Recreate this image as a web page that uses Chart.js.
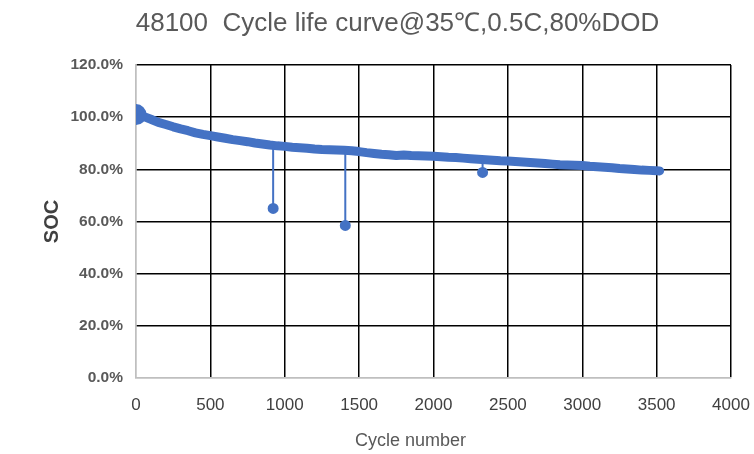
<!DOCTYPE html>
<html lang="en">
<head>
  <meta charset="UTF-8">
  <title>48100 Cycle life curve</title>
  <script src="https://cdn.jsdelivr.net/npm/chart.js"></script>
  <style>
    html, body { margin: 0; padding: 0; background: #fff; overflow: hidden; }
    #wrap { width: 754px; height: 454px; }
    canvas { display: block; }
  </style>
</head>
<body>
<div id="wrap"><canvas id="chart" width="754" height="454"></canvas></div>

<script>
  // values
  const chartTitle = "48100  Cycle life curve@35\u2103,0.5C,80%DOD";
  const xTitle = "Cycle number";
  const cycles = [0, 50, 100, 150, 200, 250, 300, 350, 400, 450, 500, 550, 600, 650, 700, 750, 800, 850, 900, 950,
    1000, 1050, 1100, 1150, 1200, 1250, 1300, 1350, 1400, 1450, 1500, 1550, 1600, 1650, 1700, 1750, 1800, 1850, 1900, 1950,
    2000, 2050, 2100, 2150, 2200, 2250, 2300, 2350, 2400, 2450, 2500, 2550, 2600, 2650, 2700, 2750, 2800, 2850, 2900, 2950,
    3000, 3050, 3100, 3150, 3200, 3250, 3300, 3350, 3400, 3450, 3500, 3520];
  const soc = [101.0, 100.3, 99.2, 98.0, 97.2, 96.3, 95.5, 94.8, 94.0, 93.4, 92.9, 92.4, 91.9, 91.4, 91.0, 90.6, 90.1, 89.7, 89.3, 89.0,
    88.8, 88.5, 88.3, 88.1, 87.8, 87.6, 87.5, 87.4, 87.3, 87.1, 86.8, 86.4, 86.1, 85.8, 85.6, 85.3, 85.5, 85.3, 85.2, 85.1,
    85.0, 84.8, 84.6, 84.5, 84.3, 84.1, 83.9, 83.7, 83.5, 83.3, 83.2, 83.0, 82.8, 82.6, 82.4, 82.2, 82.0, 81.8, 81.7, 81.6,
    81.5, 81.2, 81.0, 80.8, 80.6, 80.3, 80.1, 79.9, 79.7, 79.6, 79.5, 79.4];
  // single-cycle drops: cycle, soc on the curve, dropped soc
  const dipCycles = [922, 1407, 2330];
  const dipBase = [89.2, 87.3, 83.8];
  const dipLow = [65.0, 58.5, 78.8];
  const xTicks = { min: 0, max: 4000, step: 500 };
  const yTicks = { min: 0, max: 120, step: 20 };

  const blue = "#4472C4";
  const FONT = "'Liberation Sans', Arial, sans-serif";

  const mainData = cycles.map((c, i) => ({ x: c, y: soc[i] }));
  const dipData = [];
  dipCycles.forEach((c, i) => {
    dipData.push({ x: c, y: dipBase[i] });
    dipData.push({ x: c, y: dipLow[i] });
    dipData.push({ x: c, y: null });
  });

  // chart title and x title sit left of the plot centre in the original, so draw them here
  const textPlugin = {
    id: "sideTitles",
    afterDraw(chart) {
      const ctx = chart.ctx;
      const a = chart.chartArea;
      const mid = (a.left + a.right) / 2;
      ctx.save();
      ctx.textAlign = "center";
      ctx.textBaseline = "middle";
      ctx.fillStyle = "#595959";
      ctx.font = "26px " + FONT;
      ctx.fillText(chartTitle, mid - 36, a.top - 41);
      ctx.font = "18px " + FONT;
      ctx.fillText(xTitle, mid - 23, a.bottom + 63);
      ctx.restore();
    }
  };

  const gridColor = ctx => (ctx.tick && ctx.tick.value === 0) ? "#bfbfbf" : "#000000";

  new Chart(document.getElementById("chart"), {
    type: "scatter",
    data: {
      datasets: [
        {
          label: "drops",
          data: dipData,
          showLine: true,
          spanGaps: false,
          borderColor: blue,
          backgroundColor: blue,
          borderWidth: 2,
          pointRadius: ctx => (ctx.raw && ctx.raw.y !== null && dipLow.includes(ctx.raw.y)) ? 4.5 : 0,
          pointHoverRadius: 0
        },
        {
          label: "SOC",
          data: mainData,
          showLine: true,
          borderColor: blue,
          backgroundColor: blue,
          borderWidth: 9,
          borderCapStyle: "round",
          borderJoinStyle: "round",
          pointRadius: ctx => ctx.dataIndex === 0 ? 6 : 0,
          pointHoverRadius: 0
        }
      ]
    },
    options: {
      responsive: false,
      animation: false,
      layout: { padding: { left: 0, right: 23, top: 65, bottom: 0 } },
      plugins: {
        legend: { display: false },
        tooltip: { enabled: false },
        title: { display: false }
      },
      scales: {
        x: {
          type: "linear",
          min: xTicks.min,
          max: xTicks.max,
          afterFit: s => { s.height = 76; s.paddingLeft = 0; s.paddingRight = 0; },
          ticks: {
            stepSize: xTicks.step,
            padding: 17,
            color: "#404040",
            font: { family: FONT, size: 17 },
            callback: v => String(v)
          },
          grid: { color: gridColor, lineWidth: 1.5, drawTicks: false },
          border: { color: "#bfbfbf", width: 1.5 }
        },
        y: {
          min: yTicks.min,
          max: yTicks.max,
          afterFit: s => { s.width = 136; },
          ticks: {
            stepSize: yTicks.step,
            padding: 13,
            color: "#595959",
            font: { family: FONT, size: 15.5, weight: "bold" },
            callback: v => v.toFixed(1) + "%"
          },
          grid: { color: gridColor, lineWidth: 1.5, drawTicks: false },
          border: { color: "#bfbfbf", width: 1.5 },
          title: {
            display: true,
            text: "SOC",
            color: "#404040",
            font: { family: FONT, size: 20, weight: "bold" },
            padding: { top: 40, bottom: 0 }
          }
        }
      }
    },
    plugins: [textPlugin]
  });
</script>
</body>
</html>
